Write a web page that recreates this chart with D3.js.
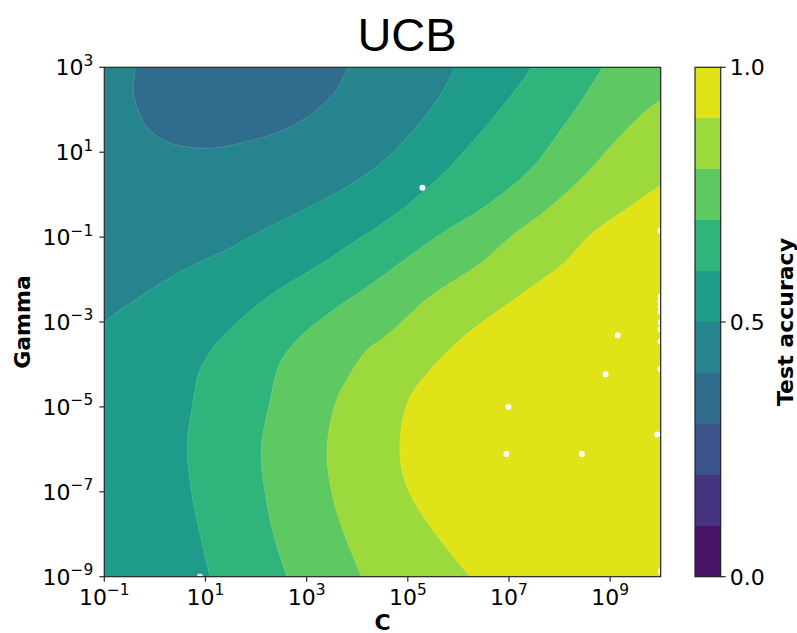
<!DOCTYPE html>
<html>
<head>
<meta charset="utf-8">
<script src="https://cdn.jsdelivr.net/npm/d3@7"></script>
<style>
  body { margin: 0; background: #fff; }
  text { font-family: "DejaVu Sans", sans-serif; }
</style>
</head>
<body>
<svg id="chart" width="797" height="633"></svg>
<script>
// Axis ranges and ticks
const cRange = [1e-1, 1e10];
const gammaRange = [1e-9, 1e3];
const cTicks = [1e-1, 1e1, 1e3, 1e5, 1e7, 1e9];
const gammaTicks = [1e-9, 1e-7, 1e-5, 1e-3, 1e-1, 1e1, 1e3];
const levels = [0, 0.1, 0.2, 0.3, 0.4, 0.5, 0.6, 0.7, 0.8, 0.9, 1.0];
const cbarTicks = [0, 0.5, 1.0];

// Iso-accuracy boundaries, as [log10 C, log10 gamma] pairs
const iso04 = [[-0.38, 3], [-0.43, 2.54], [-0.36, 2.07], [-0.16, 1.60], [0.23, 1.25], [1.02, 1.09],
  [1.95, 1.29], [2.61, 1.56], [3.20, 1.99], [3.59, 2.47], [3.82, 3]];
const iso05 = [[-1, -2.99], [-0.29, -2.40], [0.56, -1.78], [1.42, -1.30], [2.14, -0.83], [2.87, -0.40],
  [3.86, 0.23], [4.55, 0.82], [5.11, 1.52], [5.63, 2.31], [5.93, 3]];
const iso06 = [[1.09, -9], [0.89, -7.98], [0.73, -7.04], [0.64, -5.94], [0.76, -4.84], [0.89, -4.13],
  [1.22, -3.50], [1.68, -2.95], [2.34, -2.32], [3.20, -1.70], [3.99, -1.07], [4.45, -0.72],
  [5.11, -0.13], [5.77, 0.58], [6.43, 1.45], [7.08, 2.39], [7.45, 3]];
const iso07 = [[2.61, -9], [2.34, -7.98], [2.18, -7.04], [2.10, -6.02], [2.28, -4.84], [2.47, -3.97],
  [2.87, -3.35], [3.53, -2.72], [4.19, -2.18], [5.11, -1.38], [5.77, -0.83], [6.43, -0.36],
  [7.41, 0.58], [8.07, 1.60], [8.53, 2.39], [8.85, 3]];
const iso08 = [[4.09, -9], [3.79, -8.14], [3.53, -7.19], [3.40, -6.02], [3.59, -4.84], [3.79, -4.37],
  [4.19, -3.66], [4.55, -3.35], [5.44, -2.40], [6.43, -1.62], [7.08, -0.95], [7.74, -0.36],
  [8.53, 0.50], [9.19, 1.37], [9.72, 1.99], [10, 2.23]];
const iso09 = [[6.23, -9], [5.44, -7.82], [4.98, -6.88], [4.84, -6.02], [5.01, -4.84], [5.44, -4.13],
  [6.10, -3.35], [7.08, -2.48], [8.07, -1.62], [8.60, -0.95], [9.19, -0.44], [10, 0.23]];

// Evaluated (C, gamma) settings, as [log10 C, log10 gamma]
const samples = [[5.29, 0.16], [9.15, -3.31], [8.91, -4.23], [6.99, -5.00], [6.95, -6.11],
  [8.44, -6.11], [9.93, -5.65], [10, -0.85], [10, -2.40], [10, -2.52], [10, -2.64], [10, -2.76],
  [10, -3.01], [10, -3.17], [10, -3.46], [10, -4.11], [10, -8.88], [0.89, -9]];

const svg = d3.select("#chart");
const L = 104.3, R = 660.7, T = 67.3, B = 576.7;

const x = d3.scaleLog().domain(cRange).range([L, R]);
const y = d3.scaleLog().domain(gammaRange).range([B, T]);
const bandColor = i => d3.interpolateViridis((levels[i] + levels[i + 1]) / 2);
const pt = d => [x(Math.pow(10, d[0])), y(Math.pow(10, d[1]))];
const curve = d3.line().curve(d3.curveCatmullRom.alpha(0.5));

svg.append("defs").append("clipPath").attr("id", "plotClip")
  .append("rect").attr("x", L).attr("y", T).attr("width", R - L).attr("height", B - T);

const plot = svg.append("g").attr("clip-path", "url(#plotClip)");

// Base layer: 0.4 - 0.5 band
plot.append("rect").attr("x", L).attr("y", T).attr("width", R - L).attr("height", B - T)
  .attr("fill", bandColor(4));

// 0.3 - 0.4 pocket along the top edge
plot.append("path").attr("d", curve(iso04.map(pt)) + "Z").attr("fill", bandColor(3));

// Regions above each threshold, closed through the lower-right corners
const regions = [
  { iso: iso05, band: 5, corners: [[R, T], [R, B], [L, B]] },
  { iso: iso06, band: 6, corners: [[R, T], [R, B]] },
  { iso: iso07, band: 7, corners: [[R, T], [R, B]] },
  { iso: iso08, band: 8, corners: [[R, B]] },
  { iso: iso09, band: 9, corners: [[R, B]] }
];
regions.forEach(r => {
  const pts = r.iso.map(pt);
  const tail = r.corners.map(c => "L" + c[0] + "," + c[1]).join("");
  plot.append("path").attr("d", curve(pts) + tail + "Z").attr("fill", bandColor(r.band));
});

// faint seams along the level boundaries
[iso04, iso05, iso06, iso07, iso08, iso09].forEach(iso => {
  plot.append("path").attr("d", curve(iso.map(pt))).attr("fill", "none")
    .attr("stroke", "rgba(255,255,255,0.22)").attr("stroke-width", 0.7);
});

// sampled points
plot.selectAll("circle.sample").data(samples).enter().append("circle")
  .attr("class", "sample")
  .attr("cx", d => pt(d)[0]).attr("cy", d => pt(d)[1]).attr("r", 3)
  .attr("fill", "#fff");

// frame
svg.append("rect").attr("x", L).attr("y", T).attr("width", R - L).attr("height", B - T)
  .attr("fill", "none").attr("stroke", "#262626").attr("stroke-width", 1.2);

// power-of-ten tick label
function powLabel(sel, v) {
  const e = Math.round(Math.log10(v));
  sel.text("10");
  sel.append("tspan").attr("dy", "-0.62em").attr("font-size", "0.7em")
    .text(e < 0 ? "\u2212" + Math.abs(e) : String(e));
}

// x axis
const xAxis = svg.append("g");
cTicks.forEach(v => {
  const px = x(v);
  xAxis.append("line").attr("x1", px).attr("x2", px).attr("y1", B).attr("y2", B + 5)
    .attr("stroke", "#262626").attr("stroke-width", 1.2);
  xAxis.append("text").attr("x", px).attr("y", B + 28).attr("text-anchor", "middle")
    .attr("font-size", 22).attr("fill", "#000").call(powLabel, v);
});

// y axis
const yAxis = svg.append("g");
gammaTicks.forEach(v => {
  const py = y(v);
  yAxis.append("line").attr("x1", L - 5).attr("x2", L).attr("y1", py).attr("y2", py)
    .attr("stroke", "#262626").attr("stroke-width", 1.2);
  yAxis.append("text").attr("x", L - 11).attr("y", py + 8).attr("text-anchor", "end")
    .attr("font-size", 22).attr("fill", "#000").call(powLabel, v);
});

// axis titles
svg.append("text").attr("x", (L + R) / 2).attr("y", 630).attr("text-anchor", "middle")
  .attr("font-size", 22).attr("font-weight", "bold").text("C");
svg.append("text").attr("transform", `translate(30,${(T + B) / 2}) rotate(-90)`)
  .attr("text-anchor", "middle").attr("font-size", 22).attr("font-weight", "bold").text("Gamma");

// title
svg.append("text").attr("x", 407).attr("y", 51).attr("text-anchor", "middle")
  .attr("font-size", 47).style("font-family", "'Liberation Sans', Arial, sans-serif").text("UCB");

// colorbar
const cbL = 695, cbR = 720.7;
const cb = d3.scaleLinear().domain([0, 1]).range([B, T]);
const cbar = svg.append("g");
d3.range(levels.length - 1).forEach(i => {
  cbar.append("rect").attr("x", cbL).attr("width", cbR - cbL)
    .attr("y", cb(levels[i + 1])).attr("height", cb(levels[i]) - cb(levels[i + 1]))
    .attr("fill", bandColor(i)).attr("shape-rendering", "crispEdges");
});
cbar.append("rect").attr("x", cbL).attr("y", T).attr("width", cbR - cbL).attr("height", B - T)
  .attr("fill", "none").attr("stroke", "#262626").attr("stroke-width", 1.2);
cbarTicks.forEach(v => {
  cbar.append("line").attr("x1", cbR).attr("x2", cbR + 5).attr("y1", cb(v)).attr("y2", cb(v))
    .attr("stroke", "#262626").attr("stroke-width", 1.2);
  cbar.append("text").attr("x", cbR + 9).attr("y", cb(v) + 8).attr("font-size", 22)
    .text(d3.format(".1f")(v));
});
svg.append("text").attr("transform", `translate(793,${(T + B) / 2}) rotate(-90)`)
  .attr("text-anchor", "middle").attr("font-size", 22).attr("font-weight", "bold")
  .text("Test accuracy");
</script>
</body>
</html>
